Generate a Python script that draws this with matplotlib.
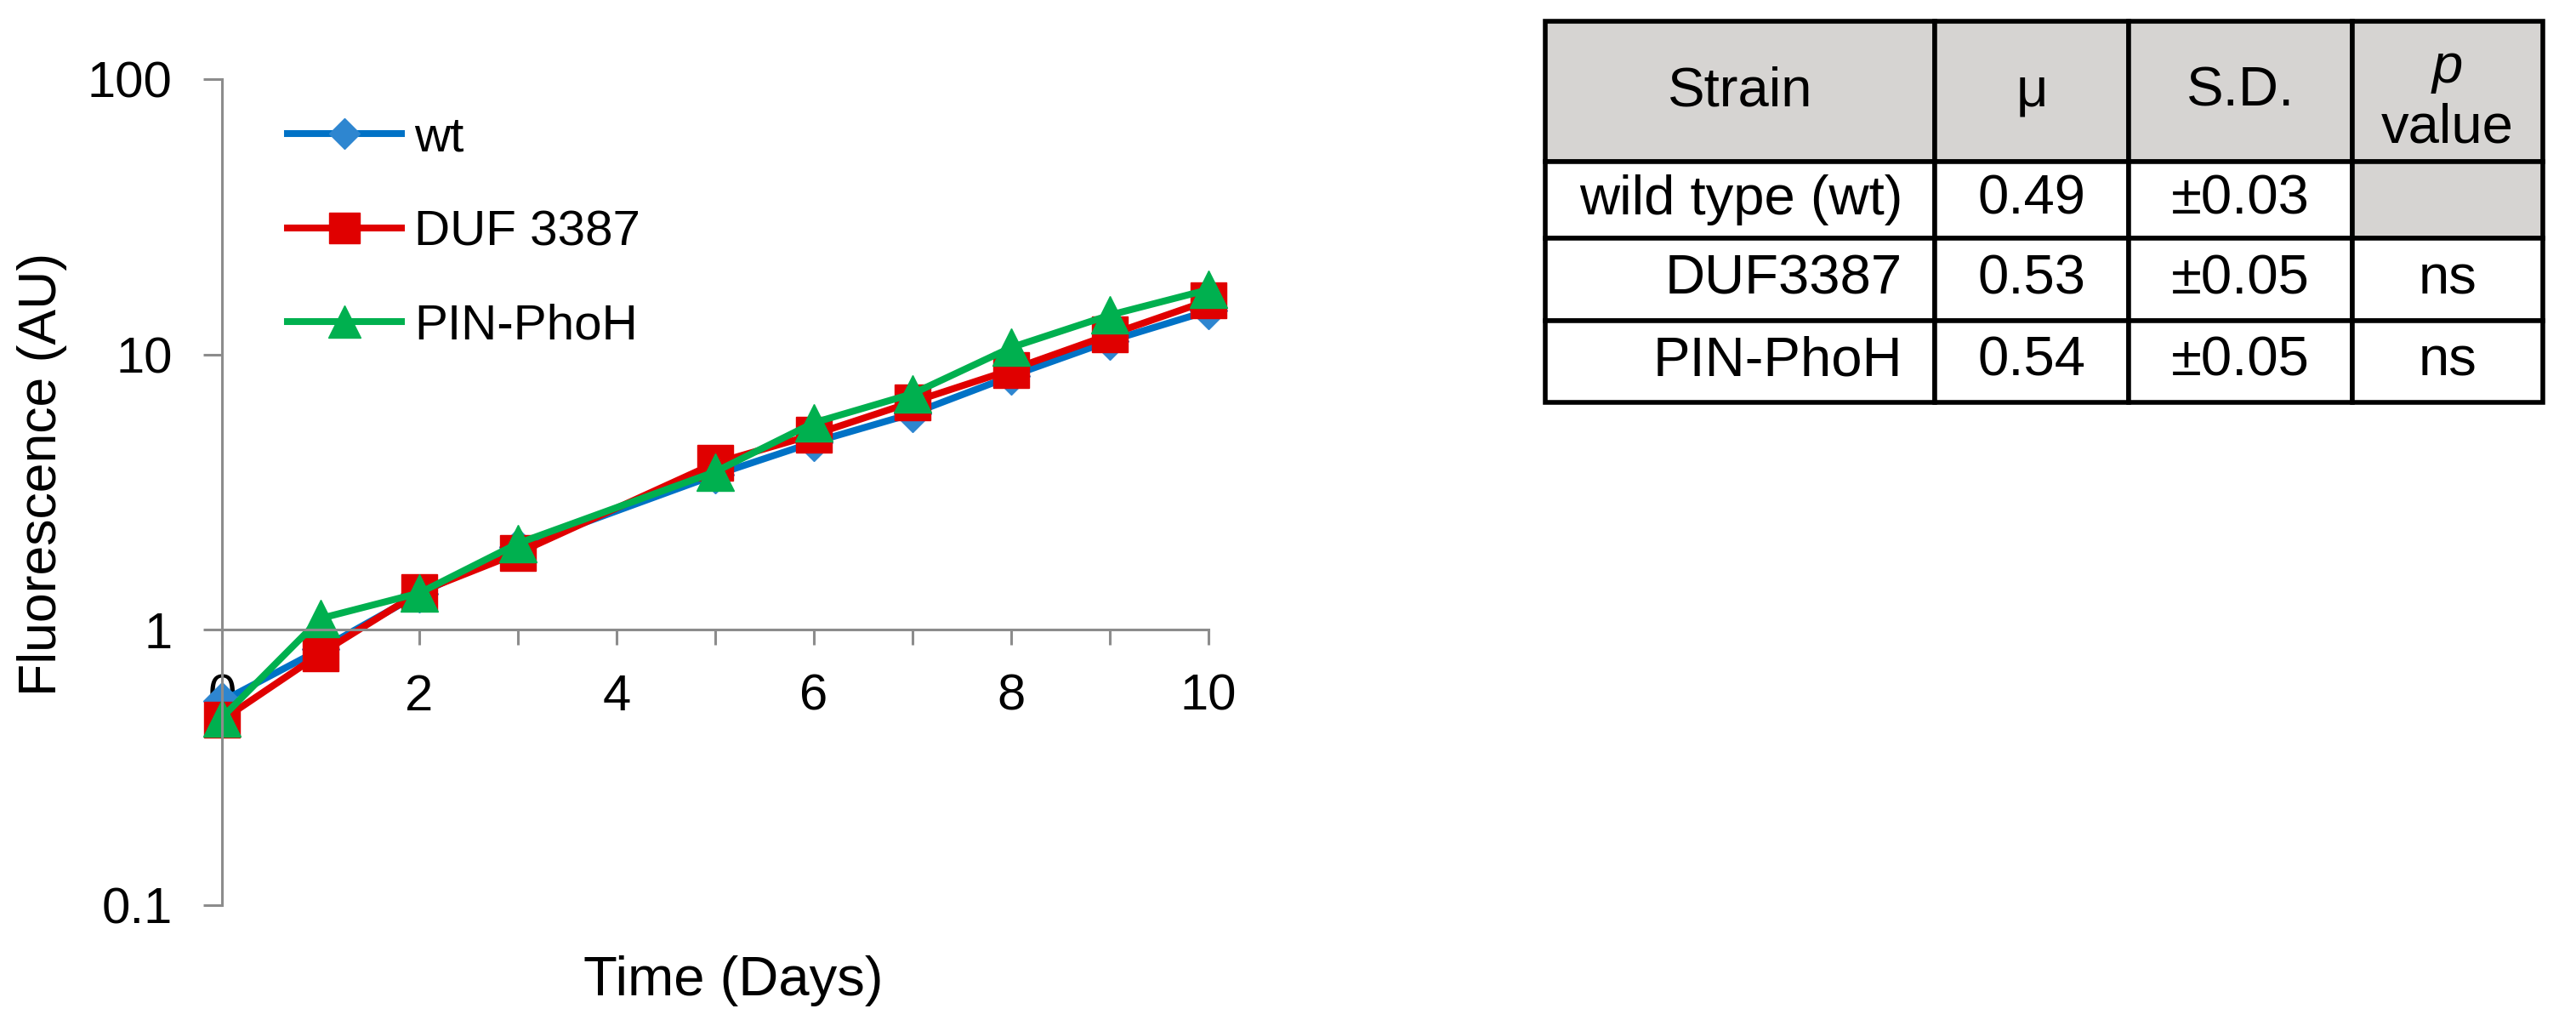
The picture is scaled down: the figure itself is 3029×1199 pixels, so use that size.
import matplotlib
matplotlib.use("Agg")
import matplotlib.pyplot as plt

plt.rcParams['font.family'] = ['Liberation Sans', 'DejaVu Sans']

# growth curves
days = [0, 1, 2, 3, 5, 6, 7, 8, 9, 10]
wt = [0.55, 0.85, 1.35, 2.0, 3.65, 4.8, 6.1, 8.35, 11.2, 14.4]
duf3387 = [0.47, 0.82, 1.37, 1.90, 4.03, 5.12, 6.72, 8.8, 11.8, 15.7]
pin_phoh = [0.48, 1.10, 1.36, 2.06, 3.75, 5.65, 7.2, 10.6, 13.9, 17.2]
series_names = ['wt', 'DUF 3387', 'PIN-PhoH']

# table contents
col_labels = ['Strain', 'μ', 'S.D.', '']
strains = ['wild type (wt)', 'DUF3387', 'PIN-PhoH']
mu = ['0.49', '0.53', '0.54']
sd = ['±0.03', '±0.05', '±0.05']
pvals = ['', 'ns', 'ns']

W, H = 3029, 1199
fig = plt.figure(figsize=(W / 100, H / 100), dpi=100)

# main plot, placed in pixel coordinates of the reference
ax = fig.add_axes([261 / W, (H - 1064) / H, (1421 - 261) / W, (1064 - 93) / H])
ax.set_yscale('log')
ax.set_ylim(0.1, 100)
ax.set_xlim(0, 10)

grey = '#8c8c8c'
lw = 5.8
ax.plot(days, wt, color='#0072C6', lw=lw, marker='D', ms=22,
        mfc='#2E86D0', mec='#2E86D0', clip_on=False, label=series_names[0])
ax.plot(days, duf3387, color='#E00000', lw=lw, marker='s', ms=30,
        mfc='#E00000', mec='#E00000', clip_on=False, label=series_names[1])
ax.plot(days, pin_phoh, color='#00B04F', lw=lw, marker='^', ms=32,
        mfc='#00B04F', mec='#00B04F', clip_on=False, label=series_names[2])

for s in ['top', 'right']:
    ax.spines[s].set_visible(False)
ax.spines['bottom'].set_position(('data', 1))
for s in ['left', 'bottom']:
    ax.spines[s].set_color(grey)
    ax.spines[s].set_linewidth(2.2)

ax.set_yticks([0.1, 1, 10, 100])
ax.set_yticklabels(['0.1', '1', '10', '100'])
ax.minorticks_off()
ax.set_xticks(range(0, 11))
ax.set_xticklabels([str(i) if i % 2 == 0 else '' for i in range(0, 11)])
ax.tick_params(axis='y', length=16, width=2.2, color=grey, pad=26, labelsize=43)
ax.tick_params(axis='x', length=13, width=2.2, color=grey, pad=24, labelsize=43)
ax.patch.set_visible(False)

fig.text(50 / W, 1 - 557 / H, 'Fluorescence (AU)', rotation=90,
         ha='center', va='center', fontsize=45)
fig.text(862 / W, 1 - 1153 / H, 'Time (Days)', ha='center', va='center', fontsize=47)

leg = ax.legend(loc='center left', bbox_to_anchor=(338 / W, 1 - 273 / H),
                bbox_transform=fig.transFigure, frameon=False, fontsize=42,
                borderpad=0, borderaxespad=0, handlelength=2.3,
                handletextpad=0.25, labelspacing=0.97, markerscale=0.85)

# statistics table
tx0, tx1, ty0, ty1 = 1817, 2990, 25, 473
tax = fig.add_axes([tx0 / W, (H - ty1) / H, (tx1 - tx0) / W, (ty1 - ty0) / H])
tax.axis('off')
cell_text = [[strains[i], mu[i], sd[i], pvals[i]] for i in range(3)]
col_w = [458, 228, 263, 224]
tab = tax.table(cellText=cell_text, colLabels=col_labels,
                colWidths=[c / sum(col_w) for c in col_w],
                cellLoc='center', bbox=[0, 0, 1, 1])
tab.auto_set_font_size(False)
tab.set_fontsize(47)
row_h = [165, 90, 97, 96]
fill = '#d6d4d2'
for (r, c), cell in tab.get_celld().items():
    cell.set_height(row_h[r] / sum(row_h))
    cell.set_linewidth(4.0)
    cell.set_edgecolor('black')
    if r == 0:
        cell.set_facecolor(fill)
    if r == 1 and c == 3:
        cell.set_facecolor(fill)
    if r > 0 and c == 0:
        cell.PAD = 0.083
        cell.get_text().set_ha('right')
        cell._loc = 'right'

# p value header: italic p over "value"
px = (sum(col_w[:3]) + col_w[3] / 2) / sum(col_w)
tax.text(px, 1 - (80 - ty0) / (ty1 - ty0), 'p', style='italic', fontsize=47,
         ha='center', va='center', transform=tax.transAxes)
tax.text(px, 1 - (150 - ty0) / (ty1 - ty0), 'value', fontsize=47,
         ha='center', va='center', transform=tax.transAxes)

fig.savefig('out.png', dpi=100)
